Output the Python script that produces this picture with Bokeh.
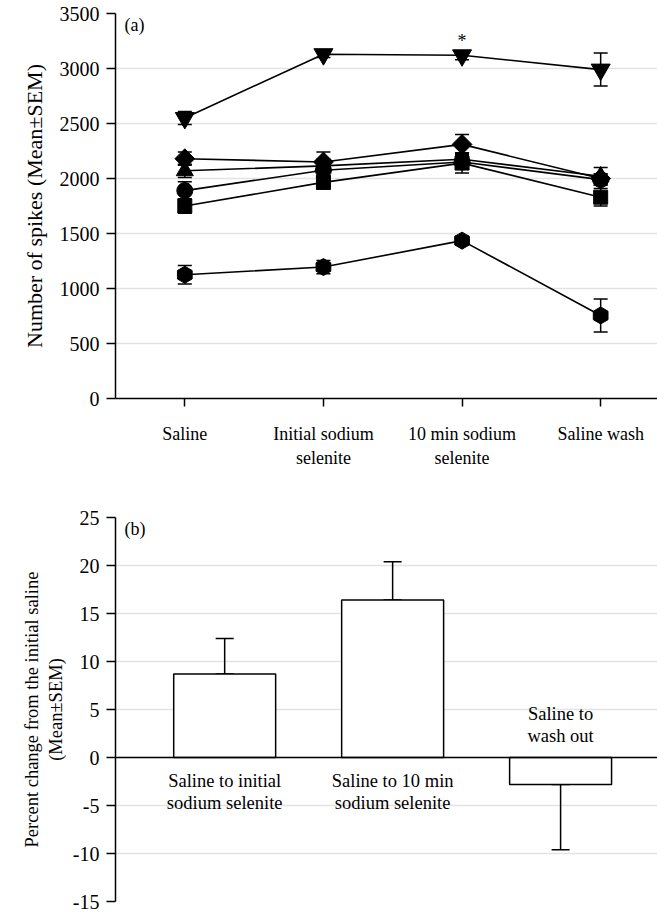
import math
from bokeh.plotting import figure
from bokeh.models import ColumnDataSource, Whisker, TeeHead, FixedTicker, Span, Label
from bokeh.layouts import column
from bokeh.embed import file_html
from bokeh.resources import INLINE
from bokeh.core.properties import value

FONT = "'Times New Roman', 'Liberation Serif', serif"

# ---------------- data (a) ----------------
conditions = ["Saline", "Initial sodium\nselenite", "10 min sodium\nselenite", "Saline wash"]
cond_x = [0, 1, 2, 3]

tri_down_mean = [2550, 3130, 3120, 2990]
tri_down_sem = [60, 30, 40, 150]
diamond_mean = [2180, 2150, 2310, 2000]
diamond_sem = [60, 90, 90, 40]
tri_up_mean = [2070, 2115, 2175, 2020]
tri_up_sem = [60, 60, 60, 80]
circle_mean = [1890, 2075, 2150, 1990]
circle_sem = [80, 60, 60, 50]
square_mean = [1750, 1965, 2140, 1830]
square_sem = [65, 60, 90, 80]
hex_mean = [1125, 1195, 1435, 755]
hex_sem = [85, 60, 40, 150]

significant_index = 2  # asterisk above 10 min for the top series

# ---------------- data (b) ----------------
change_labels = ["Saline to initial\nsodium selenite", "Saline to 10 min\nsodium selenite", "Saline to\nwash out"]
change_x = [0, 1, 2]
change_mean = [8.7, 16.4, -2.8]
change_sem = [3.7, 4.0, 6.8]

y_ticks_a = [0, 500, 1000, 1500, 2000, 2500, 3000, 3500]
y_ticks_b = [-15, -10, -5, 0, 5, 10, 15, 20, 25]

GRID = "#e3e3e3"
TICK_FS = "20px"
CAT_FS = "18px"


def style_axis(ax):
    ax.axis_line_width = 1.5
    ax.axis_line_color = "black"
    ax.major_tick_line_width = 1.5
    ax.major_tick_line_color = "black"
    ax.major_tick_in = 0
    ax.major_tick_out = 9
    ax.minor_tick_line_color = None
    ax.major_label_text_font = FONT
    ax.major_label_text_color = "black"
    ax.axis_label_text_font = FONT
    ax.axis_label_text_font_style = "normal"
    ax.axis_label_text_color = "black"


# ---------------- panel (a) ----------------
p1 = figure(width=657, height=470, x_range=(-0.5, 3.41), y_range=(0, 3500),
            output_backend="svg", toolbar_location=None,
            min_border_left=115, min_border_right=0, min_border_top=13, min_border_bottom=71)
p1.outline_line_color = None
p1.xgrid.grid_line_color = None
p1.ygrid.grid_line_color = GRID
p1.ygrid.grid_line_width = 1.5
p1.ygrid.ticker = FixedTicker(ticks=y_ticks_a)

xa = p1.xaxis[0]
ya = p1.yaxis[0]
style_axis(xa)
style_axis(ya)
ya.ticker = FixedTicker(ticks=y_ticks_a)
xa.ticker = FixedTicker(ticks=cond_x)
xa.major_label_overrides = {x: lab for x, lab in zip(cond_x, conditions)}
xa.major_tick_out = 8
xa.major_label_text_font_size = CAT_FS
xa.major_label_standoff = 17
ya.major_label_text_font_size = TICK_FS
ya.major_label_standoff = 7
ya.axis_label = "Number of spikes (Mean±SEM)"
ya.axis_label_text_font_size = "22px"
ya.axis_label_standoff = 10

series = [
    (tri_down_mean, tri_down_sem, "inverted_triangle", 19, 0),
    (diamond_mean, diamond_sem, "square", 14, math.pi / 4),
    (tri_up_mean, tri_up_sem, "triangle", 17, 0),
    (circle_mean, circle_sem, "circle", 16, 0),
    (square_mean, square_sem, "square", 14, 0),
    (hex_mean, hex_sem, "hex", 17, math.pi / 6),
]
for mean, sem, marker, size, ang in series:
    src = ColumnDataSource(dict(x=cond_x, y=mean,
                                lo=[m - s for m, s in zip(mean, sem)],
                                hi=[m + s for m, s in zip(mean, sem)]))
    p1.line("x", "y", source=src, line_color="black", line_width=1.6)
    w = Whisker(source=src, base="x", lower="lo", upper="hi", line_color="black", line_width=1.5,
                upper_head=TeeHead(size=14, line_width=1.5, line_color="black"),
                lower_head=TeeHead(size=14, line_width=1.5, line_color="black"))
    p1.add_layout(w)
    p1.scatter("x", "y", source=src, marker=marker, size=size, angle=ang,
               fill_color="black", line_color="black")

p1.text(x=[cond_x[significant_index]], y=[tri_down_mean[significant_index]], text=["*"],
        text_font=value(FONT), text_font_size="18px", text_align="center", text_baseline="alphabetic",
        y_offset=-14, text_color="black")

p1.add_layout(Label(x=-0.5, y=3500, x_offset=9, y_offset=-1, text="(a)", text_baseline="top",
                    text_font=FONT, text_font_size=CAT_FS, text_color="black"))

# ---------------- panel (b) ----------------
p2 = figure(width=657, height=443, x_range=(-0.65, 2.577), y_range=(-15, 25),
            output_backend="svg", toolbar_location=None, x_axis_location=None,
            min_border_left=115, min_border_right=0, min_border_top=47, min_border_bottom=12)
p2.outline_line_color = None
p2.xgrid.grid_line_color = None
p2.ygrid.grid_line_color = GRID
p2.ygrid.grid_line_width = 1.5
p2.ygrid.ticker = FixedTicker(ticks=y_ticks_b)
yb = p2.yaxis[0]
style_axis(yb)
yb.ticker = FixedTicker(ticks=y_ticks_b)
yb.major_label_overrides = {t: str(t) for t in y_ticks_b}
yb.major_label_text_font_size = TICK_FS
yb.major_label_standoff = 7
yb.axis_label = "Percent change from the initial saline\n(Mean±SEM)"
yb.axis_label_text_font_size = "18.5px"
yb.axis_label_standoff = 4

bsrc = ColumnDataSource(dict(
    x=change_x, top=change_mean,
    lo=[m if m > 0 else m - s for m, s in zip(change_mean, change_sem)],
    hi=[m + s if m > 0 else m for m, s in zip(change_mean, change_sem)],
))
p2.add_layout(Whisker(source=bsrc, base="x", lower="lo", upper="hi", line_color="black", line_width=1.5,
                      upper_head=TeeHead(size=18, line_width=1.5, line_color="black"),
                      lower_head=TeeHead(size=18, line_width=1.5, line_color="black")))
p2.vbar(x="x", top="top", bottom=0, width=0.607, source=bsrc, fill_color="white",
        line_color="black", line_width=1.5)
p2.add_layout(Span(location=0, dimension="width", line_color="black", line_width=1.5))

pos_x = [x for x, m in zip(change_x, change_mean) if m > 0]
pos_t = [t for t, m in zip(change_labels, change_mean) if m > 0]
neg_x = [x for x, m in zip(change_x, change_mean) if m <= 0]
neg_t = [t for t, m in zip(change_labels, change_mean) if m <= 0]
p2.text(x=pos_x, y=[0] * len(pos_x), text=pos_t, text_font=value(FONT), text_font_size="18.5px",
        text_align="center", text_baseline="top", y_offset=13, text_color="black", text_line_height=1.1)
p2.text(x=neg_x, y=[0] * len(neg_x), text=neg_t, text_font=value(FONT), text_font_size="18.5px",
        text_align="center", text_baseline="bottom", y_offset=-12, text_color="black", text_line_height=1.1)

p2.add_layout(Label(x=-0.65, y=25, x_offset=9, y_offset=-1, text="(b)", text_baseline="top",
                    text_font=FONT, text_font_size=CAT_FS, text_color="black"))

layout = column(p1, p2, spacing=0)
open("out.html", "w").write(file_html(layout, INLINE))
